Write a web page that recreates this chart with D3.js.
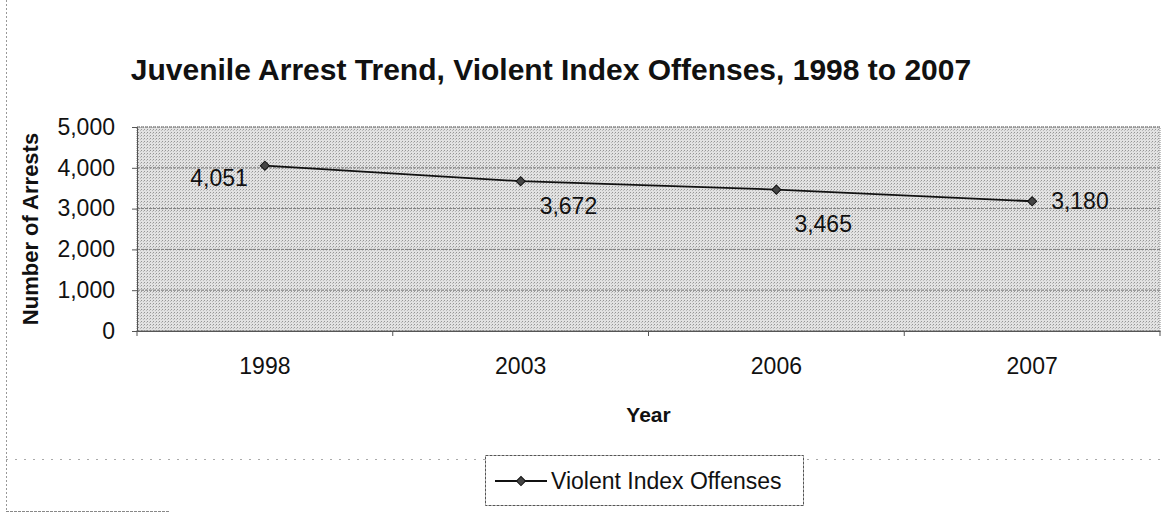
<!DOCTYPE html>
<html>
<head>
<meta charset="utf-8">
<style>
	body { margin: 0; background: #fff; }
	svg { display: block; }
	text { font-family: "Liberation Sans", Arial, sans-serif; fill: #111; }
	.grid line { stroke: #7a7a7a; stroke-dasharray: 3,1; }
	.axis path, .axis line { stroke: #555; }
	.axis text { font-size: 23px; fill: #111; }
</style>
</head>
<body>
<svg width="1167" height="514"></svg>
<script src="https://d3js.org/d3.v7.min.js"></script>
<script>

	var years = ["1998", "2003", "2006", "2007"];
	var arrests = [4051, 3672, 3465, 3180];
	var yTicks = [0, 1000, 2000, 3000, 4000, 5000];
	var seriesName = "Violent Index Offenses";

	var svg = d3.select("svg");

	// note: "top" is taken by window.top, so use plot* names
	var plotLeft = 137, plotRight = 1160, plotTop = 127, plotBottom = 331;

	// faint scanned frame: left edge, bottom edge, dotted divider above legend
	svg.append("line")
		.attr("x1", 6.5).attr("x2", 6.5).attr("y1", 0).attr("y2", 511)
		.attr("stroke", "#999").attr("stroke-dasharray", "2,2");
	svg.append("line")
		.attr("x1", 6).attr("x2", 170).attr("y1", 511.5).attr("y2", 511.5)
		.attr("stroke", "#888").attr("stroke-dasharray", "3,1");
	svg.append("line")
		.attr("x1", 6).attr("x2", 1167)
		.attr("y1", 459.5).attr("y2", 459.5)
		.attr("stroke", "#aaa")
		.attr("stroke-dasharray", "2,7");

	var x = d3.scaleBand().domain(years).range([plotLeft, plotRight]);
	var y = d3.scaleLinear().domain([0, 5000]).range([plotBottom, plotTop]);

	// dotted fill like the halftone of the scan
	var defs = svg.append("defs");
	var pat = defs.append("pattern")
		.attr("id", "dots")
		.attr("width", 3).attr("height", 3)
		.attr("patternUnits", "userSpaceOnUse");
	pat.append("rect").attr("width", 3).attr("height", 3).attr("fill", "#e2e2e2");
	pat.append("rect").attr("width", 1).attr("height", 1).attr("fill", "#959595");
	pat.append("rect").attr("x", 2).attr("y", 1).attr("width", 1).attr("height", 1).attr("fill", "#bababa");

	svg.append("rect")
		.attr("x", plotLeft).attr("y", plotTop)
		.attr("width", plotRight - plotLeft).attr("height", plotBottom - plotTop)
		.attr("fill", "url(#dots)")
		.attr("stroke", "#888")
		.attr("stroke-dasharray", "1,1");

	svg.append("g")
		.attr("class", "grid")
		.selectAll("line")
		.data(yTicks)
		.enter().append("line")
		.attr("x1", plotLeft).attr("x2", plotRight)
		.attr("y1", function (d) { return y(d); })
		.attr("y2", function (d) { return y(d); });

	svg.append("g")
		.attr("class", "axis")
		.attr("transform", "translate(" + plotLeft + ",0)")
		.call(d3.axisLeft(y).tickValues(yTicks).tickFormat(d3.format(",")).tickSize(5).tickPadding(17))
		.call(function (g) { g.select(".domain").attr("stroke", "#777"); });

	var xAxis = svg.append("g")
		.attr("class", "axis")
		.attr("transform", "translate(0," + plotBottom + ")")
		.call(d3.axisBottom(x).tickSize(0).tickPadding(27));
	xAxis.select(".domain").attr("stroke", "#666");

	// ticks between categories
	xAxis.selectAll(".sep")
		.data(d3.range(years.length + 1))
		.enter().append("line")
		.attr("class", "sep")
		.attr("x1", function (i) { return plotLeft + i * x.step(); })
		.attr("x2", function (i) { return plotLeft + i * x.step(); })
		.attr("y1", 0).attr("y2", 5)
		.attr("stroke", "#666");

	var cx = function (i) { return x(years[i]) + x.bandwidth() / 2; };

	var line = d3.line()
		.x(function (d, i) { return cx(i); })
		.y(function (d) { return y(d); });

	svg.append("path")
		.datum(arrests)
		.attr("d", line)
		.attr("fill", "none")
		.attr("stroke", "#111")
		.attr("stroke-width", 1.8);

	// square turned 45deg = the Excel diamond marker
	var diamond = d3.symbol().type(d3.symbolSquare).size(42);

	svg.selectAll(".pt")
		.data(arrests)
		.enter().append("path")
		.attr("class", "pt")
		.attr("d", diamond)
		.attr("fill", "#444")
		.attr("stroke", "#111")
		.attr("transform", function (d, i) {
			return "translate(" + cx(i) + "," + y(d) + ") rotate(45)";
		});

	// label placement as in the original chart
	var labelDx = [-17, 19, 18, 19];
	var labelDy = [20, 33, 42, 8];
	var labelAnchor = ["end", "start", "start", "start"];

	svg.selectAll(".lbl")
		.data(arrests)
		.enter().append("text")
		.attr("class", "lbl")
		.attr("x", function (d, i) { return cx(i) + labelDx[i]; })
		.attr("y", function (d, i) { return y(d) + labelDy[i]; })
		.attr("text-anchor", function (d, i) { return labelAnchor[i]; })
		.attr("font-size", 23)
		.text(function (d) { return d3.format(",")(d); });

	svg.append("text")
		.attr("x", 551).attr("y", 80)
		.attr("text-anchor", "middle")
		.attr("font-size", 30)
		.attr("font-weight", "bold")
		.attr("fill", "#222")
		.text("Juvenile Arrest Trend, Violent Index Offenses, 1998 to 2007");

	svg.append("text")
		.attr("transform", "translate(38," + ((plotTop + plotBottom) / 2) + ") rotate(-90)")
		.attr("text-anchor", "middle")
		.attr("font-size", 22)
		.attr("font-weight", "bold")
		.text("Number of Arrests");

	svg.append("text")
		.attr("x", (plotLeft + plotRight) / 2).attr("y", 422)
		.attr("text-anchor", "middle")
		.attr("font-size", 21)
		.attr("font-weight", "bold")
		.text("Year");

	// legend
	var legend = svg.append("g").attr("transform", "translate(485,455)");
	legend.append("rect")
		.attr("x", 0.5).attr("y", 0.5)
		.attr("width", 318).attr("height", 50)
		.attr("fill", "#fff")
		.attr("stroke", "#555")
		.attr("stroke-dasharray", "3,1");
	legend.append("line")
		.attr("x1", 10).attr("x2", 62)
		.attr("y1", 26).attr("y2", 26)
		.attr("stroke", "#111").attr("stroke-width", 1.8);
	legend.append("path")
		.attr("d", diamond)
		.attr("transform", "translate(36,26) rotate(45)")
		.attr("fill", "#444").attr("stroke", "#111");
	legend.append("text")
		.attr("x", 66).attr("y", 34)
		.attr("font-size", 23)
		.text(seriesName);

</script>
</body>
</html>
